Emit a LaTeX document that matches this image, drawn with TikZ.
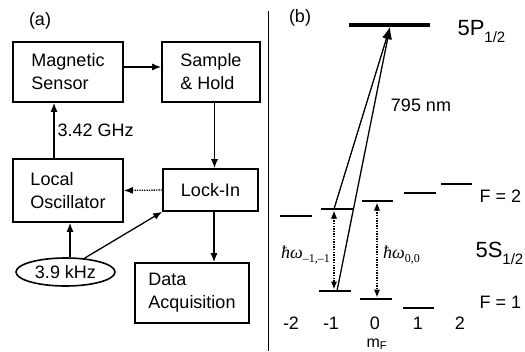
\documentclass[tikz,border=0pt]{standalone}
\usepackage{fontspec}
\setmainfont{Liberation Sans}
\newfontfamily\serif{Liberation Serif}
\usetikzlibrary{arrows.meta,shapes.geometric}
\tikzstyle{fleche} = [->,>={Latex[length=9pt,width=7pt]},line width=1.3pt]
\tikzstyle{fleche2} = [<->,>={Latex[length=8pt,width=6.5pt]},line width=1.5pt,dash pattern=on 1.4pt off 1.2pt,shorten >=1.5pt,shorten <=1.5pt]
\tikzstyle{boite} = [draw,line width=1.6pt,align=left,inner sep=0pt]
\tikzstyle{niveau} = [line width=2.6pt]
\tikzstyle{mlabel} = [inner sep=0pt]
\newcommand{\hw}[1]{{\serif\itshape ħω}\raisebox{-4pt}{\fontsize{12}{12}\serif\selectfont #1}}

\begin{document}
\begin{tikzpicture}[x=1pt,y=-1pt,font=\fontsize{18}{23}\selectfont]
	\useasboundingbox (0,0) rectangle (525,351);

	\node (la) at (40,21) {(a)};
	\node (lb) at (300,18) {(b)};

	\node[boite,minimum width=110,minimum height=60] (MS) at (68,72) {Magnetic\\Sensor};
	\node[boite,minimum width=98,minimum height=60] (SH) at (211,72) {Sample\\\& Hold};
	\node[boite,minimum width=110,minimum height=63] (LO) at (68,190.5) {Local\\Oscillator};
	\node[boite,minimum width=95,minimum height=42] (LI) at (210.5,190) {Lock-In};
	\node[boite,minimum width=114,minimum height=60] (DA) at (192,293) {Data\\Acquisition};
	\node[draw,ellipse,line width=1.6pt,minimum width=99,minimum height=28,inner sep=0pt] (F) at (65.5,272) {3.9 kHz};

	\draw[fleche] ([yshift=5pt]MS.east) -- ([yshift=5pt]SH.west);
	\draw[fleche] ([xshift=3.5pt]SH.south) -- ([xshift=3.5pt]SH.south |- LI.north);
	\draw[fleche] ([xshift=-14pt]LO.north) -- node[right,inner sep=3pt] (GHz) {3.42 GHz} ([xshift=-14pt]MS.south);
	\draw[fleche,dash pattern=on 1.3pt off 1.1pt] (LI.west) -- (LO.east);
	\draw[fleche] ([xshift=3.5pt]LI.south) -- ([xshift=3.5pt]LI.south |- DA.north);
	\draw[fleche] ([xshift=4.5pt]F.north) -- ([xshift=4.5pt]F.north |- LO.south);
	\draw[fleche] (F.36) -- (LI.south west);

	\draw[line width=1.8pt] (268.5,11) -- (268.5,351);

	% niveaux
	\draw[line width=4.5pt] (349,25) -- (430,25);
	\draw[niveau] (280,216) -- (312,216);
	\draw[niveau] (321,209) -- (353,209);
	\draw[niveau] (362,201) -- (393,201);
	\draw[niveau] (404,193) -- (436,193);
	\draw[niveau] (441,184) -- (472,184);
	\draw[niveau] (319,291) -- (351,291);
	\draw[niveau] (360,299) -- (392,299);
	\draw[niveau] (403,308) -- (434,308);

	\coordinate (haut) at (390,27);
	\coordinate (Fdm1) at (334,209);
	\coordinate (Fum1) at (334,291);
	\coordinate (Fd0) at (377,201);
	\coordinate (Fu0) at (377,299);

	\draw[fleche,>={Latex[length=12pt,width=9pt]}] (Fdm1) -- (haut);
	\draw[fleche,>={Latex[length=12pt,width=9pt]}] ([xshift=3pt]Fum1) -- (haut);
	\draw[fleche2] (Fdm1) -- (Fum1);
	\draw[fleche2] (Fd0) -- (Fu0);
	\node[anchor=base west,inner sep=0pt] (w1) at (281,258) {\hw{–1,–1}};
	\node[anchor=base west,inner sep=0pt] (w0) at (383,258) {\hw{0,0}};

	\node (nm) at (421,105) {795 nm};
	\node[anchor=base west,font=\fontsize{22}{24}\selectfont] (P12) at (454,35) {5P\raisebox{-7pt}{\fontsize{15}{15}\selectfont 1/2}};
	\node[anchor=base west,font=\fontsize{22}{24}\selectfont] (S12) at (472,257) {5S\raisebox{-7pt}{\fontsize{15}{15}\selectfont 1/2}};
	\node[anchor=west] (F2) at (476,196) {F = 2};
	\node[anchor=west] (F1) at (476,302) {F = 1};

	\node[mlabel,anchor=base] (m2) at (291,329) {-2};
	\node[mlabel,anchor=base] (m1) at (331,329) {-1};
	\node[mlabel,anchor=base] (m0) at (375,329) {0};
	\node[mlabel,anchor=base] (p1) at (418,329) {1};
	\node[mlabel,anchor=base] (p2) at (460,329) {2};
	\node[mlabel,anchor=base,font=\fontsize{16}{16}\selectfont] (mF) at (377,347) {m\textsubscript{F}};
\end{tikzpicture}
\end{document}
